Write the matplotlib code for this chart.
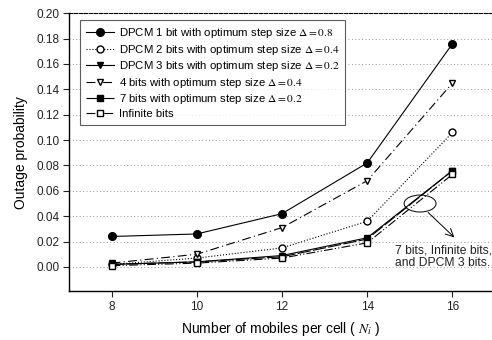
import matplotlib
matplotlib.use("Agg")
import matplotlib.pyplot as plt
from matplotlib.patches import Ellipse

plt.rcParams['font.family'] = ['Liberation Sans', 'DejaVu Sans']
plt.rcParams['mathtext.fontset'] = 'stix'

mobiles = [8, 10, 12, 14, 16]

dpcm1 = [0.024, 0.026, 0.042, 0.082, 0.176]
dpcm2 = [0.002, 0.007, 0.015, 0.036, 0.106]
dpcm3 = [0.002, 0.004, 0.009, 0.023, 0.076]
bits4 = [0.003, 0.010, 0.031, 0.068, 0.145]
bits7 = [0.002, 0.004, 0.008, 0.022, 0.076]
infinite = [0.001, 0.003, 0.007, 0.019, 0.073]

labels = [
    r"DPCM 1 bit with optimum step size $\mathrm{\Delta{=}0.8}$",
    r"DPCM 2 bits with optimum step size $\mathrm{\Delta{=}0.4}$",
    r"DPCM 3 bits with optimum step size $\mathrm{\Delta{=}0.2}$",
    r"4 bits with optimum step size $\mathrm{\Delta{=}0.4}$",
    r"7 bits with optimum step size $\mathrm{\Delta{=}0.2}$",
    "Infinite bits",
]

fig = plt.figure(figsize=(4.92, 3.40), dpi=100)
ax = fig.add_axes([0.140, 0.144, 0.862, 0.817])

lw = 0.8
ax.plot(mobiles, dpcm1, '-', color='black', lw=lw, marker='o', ms=5.5,
        mfc='black', label=labels[0])
ax.plot(mobiles, dpcm2, ':', color='black', lw=lw, marker='o', ms=5,
        mfc='white', label=labels[1])
ax.plot(mobiles, dpcm3, '-', color='black', lw=lw, marker='v', ms=5,
        mfc='black', label=labels[2])
ax.plot(mobiles, bits4, color='black', lw=lw, dashes=(8, 3, 1, 3), marker='v',
        ms=5, mfc='white', label=labels[3])
ax.plot(mobiles, bits7, color='black', lw=lw, dashes=(12, 2), marker='s',
        ms=4.5, mfc='black', label=labels[4])
ax.plot(mobiles, infinite, color='black', lw=lw, dashes=(8, 2, 1, 2, 1, 2),
        marker='s', ms=5, mfc='white', label=labels[5])

ax.set_xlim(7, 16.95)
ax.set_ylim(-0.019, 0.20)
ax.set_xticks(mobiles)
ax.set_yticks([i * 0.02 for i in range(11)])
ax.set_yticklabels([f"{i * 0.02:.2f}" for i in range(11)])
ax.tick_params(labelsize=8.5, length=4, width=0.8, pad=3, colors='#222222')
ax.yaxis.grid(True, linestyle=(0, (1, 2.5)), color='#999999', lw=0.7)
ax.set_axisbelow(True)

ax.spines['right'].set_visible(False)
ax.spines['top'].set_linestyle((0, (3, 1.5)))
ax.spines['top'].set_linewidth(0.8)
for s in ['left', 'bottom']:
    ax.spines[s].set_linewidth(1.0)

ax.set_ylabel("Outage probability", fontsize=10, labelpad=6)
ax.set_xlabel(r"Number of mobiles per cell ( $\mathit{N}_{\mathit{i}}$ )",
              fontsize=10, labelpad=5)

leg = ax.legend(loc='upper left', bbox_to_anchor=(0.026, 0.976), fontsize=8.2,
                frameon=True, fancybox=False, edgecolor='#333333',
                handlelength=2.4, labelspacing=0.22, borderpad=0.55,
                handletextpad=0.45, borderaxespad=0)
leg.get_frame().set_linewidth(0.8)

ax.add_patch(Ellipse((15.24, 0.050), 0.75, 0.0134, fill=False,
                     edgecolor='black', lw=0.7))
ax.annotate("", xy=(16.09, 0.0218), xytext=(15.38, 0.0445),
            arrowprops=dict(arrowstyle='->', color='black', lw=0.7,
                            mutation_scale=14))
ax.text(14.66, 0.018, "7 bits, Infinite bits,\nand DPCM 3 bits.",
        fontsize=8.7, va='top', ha='left', linespacing=1.1, color='#222222')

fig.savefig("out.png", dpi=100)
